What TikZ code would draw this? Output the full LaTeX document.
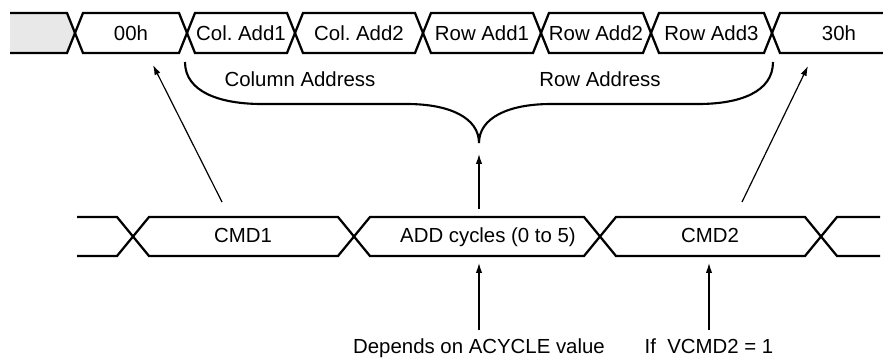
\documentclass[tikz,border=0pt]{standalone}
\usepackage{fontspec}
\setmainfont{Liberation Sans}
\usetikzlibrary{arrows.meta}

\begin{document}
\frenchspacing
\begin{tikzpicture}[x=0.025cm,y=-0.025cm,>={Latex[length=7pt,width=4.5pt]},
 bus/.style={line width=1.6pt,line join=miter},
 brace/.style={line width=1.5pt},
 ptr/.style={->,line width=0.85pt},
 lbl/.style={inner sep=0pt,font=\fontsize{14.5}{17}\selectfont,text height=10.5pt,text depth=3pt},
 note/.style={lbl,inner sep=6pt}]
\useasboundingbox (0,0) rectangle (883,358);

% upper bus
\fill[gray!18] (10,13) -- (67,13) -- (75,33) -- (67,53) -- (10,53) -- cycle;
\draw[bus] (10,13) -- (67,13) -- (75,33) -- (67,53) -- (10,53);
\foreach \a/\b/\t [count=\i] in {75/187/00h,187/295/Col. Add1,295/423/Col. Add2,
  423/541/Row Add1,541/651/Row Add2,651/772/Row Add3}
 {\draw[bus] (\a,33) -- (\a+8,13) -- (\b-8,13) -- (\b,33) -- (\b-8,53) -- (\a+8,53) -- cycle;
  \node[lbl] (u\i) at ({(\a+\b)/2},35.5) {\t};}
\draw[bus] (883,13) -- (780,13) -- (772,33) -- (780,53) -- (883,53);
\node[lbl] (u7) at (839,35.5) {30h};

% brace
\draw[brace] (185,62) .. controls (185,92) and (220,104) .. (262,104) -- (407,104)
  .. controls (450,104) and (479,118) .. (479,143)
  .. controls (479,118) and (508,104) .. (551,104) -- (698,104)
  .. controls (740,104) and (773,92) .. (773,62);
\node[lbl] (coladdr) at (300,81) {Column Address};
\node[lbl] (rowaddr) at (600,81) {Row Address};

% lower bus
\draw[bus] (77,217) -- (117,217) -- (133,236.5) -- (117,256) -- (77,256);
\foreach \a/\b/\m/\t [count=\i] in {133/354/243/CMD1,354/600/488/ADD cycles (0 to 5),600/821/710/CMD2}
 {\draw[bus] (\a,236.5) -- (\a+16,217) -- (\b-16,217) -- (\b,236.5) -- (\b-16,256) -- (\a+16,256) -- cycle;
  \node[lbl] (l\i) at (\m,237.5) {\t};}
\draw[bus] (880,217) -- (837,217) -- (821,236.5) -- (837,256) -- (880,256);

% pointers
\coordinate (c1) at (222,202);
\coordinate (t00) at (153,65);
\coordinate (c2) at (742,202);
\coordinate (t30) at (808,66);
\coordinate (ad) at (479,209);
\coordinate (tip) at (479,154);
\draw[ptr] (c1) -- (t00);
\draw[ptr] (c2) -- (t30);
\draw[ptr] (ad) -- (tip);

\node[note] (dep) at (479,348.5) {Depends on ACYCLE value};
\node[note] (vcmd) at (709,348.5) {If~ VCMD2 = 1};
\coordinate (adb) at (479,263);
\coordinate (cmb) at (709,263);
\draw[ptr] (dep.north) -- (adb);
\draw[ptr] (vcmd.north) -- (cmb);
\end{tikzpicture}
\end{document}
